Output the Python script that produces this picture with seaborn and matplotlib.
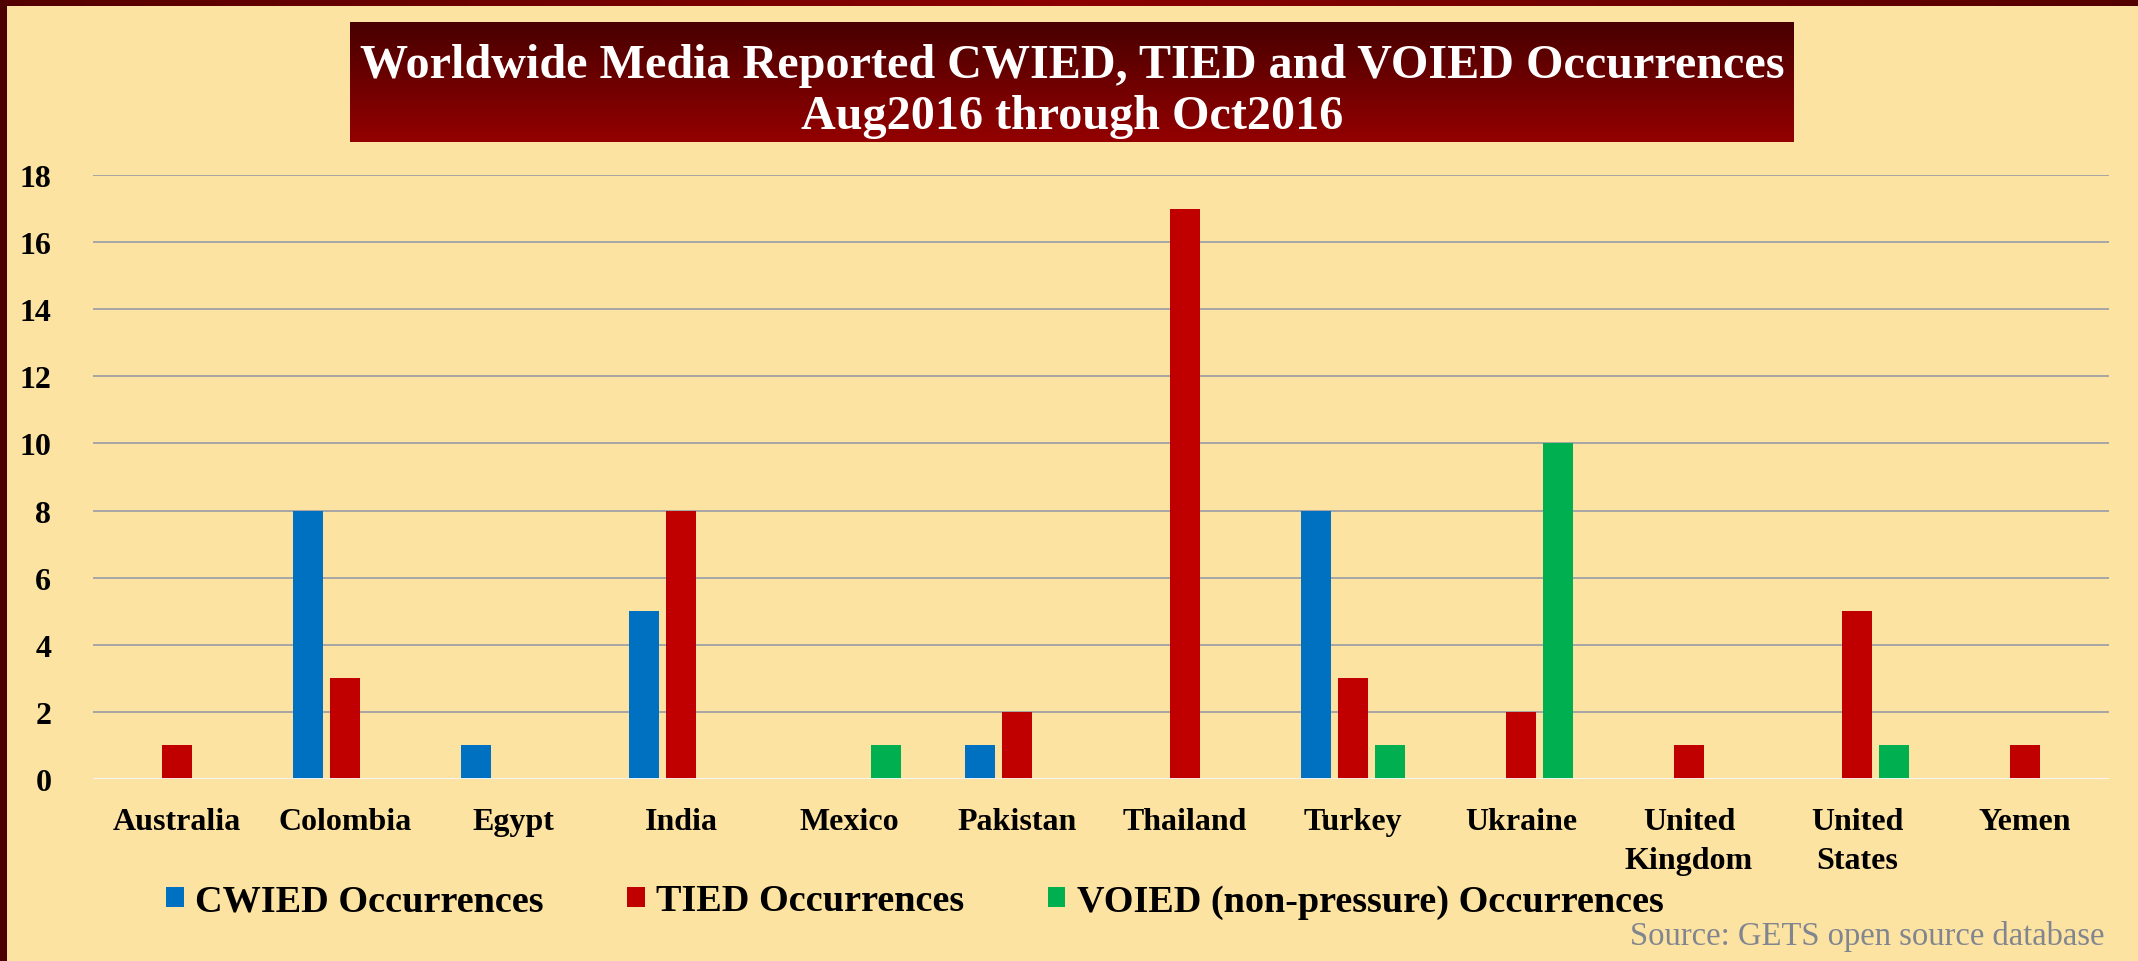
import numpy as np
import pandas as pd
import matplotlib
matplotlib.use("Agg")
import matplotlib.pyplot as plt
import seaborn as sns
from matplotlib.patches import Rectangle

countries = ["Australia", "Colombia", "Egypt", "India", "Mexico", "Pakistan",
             "Thailand", "Turkey", "Ukraine", "United\nKingdom", "United\nStates", "Yemen"]
cwied = [0, 8, 1, 5, 0, 1, 0, 8, 0, 0, 0, 0]
tied = [1, 3, 0, 8, 0, 2, 17, 3, 2, 1, 5, 1]
voied = [0, 0, 0, 0, 1, 0, 0, 1, 10, 0, 1, 0]
series_names = ["CWIED Occurrences", "TIED Occurrences", "VOIED (non-pressure) Occurrences"]
yticks = list(range(0, 19, 2))
title_lines = ["Worldwide Media Reported CWIED, TIED and VOIED Occurrences", "Aug2016 through Oct2016"]
source_text = "Source: GETS open source database"

colors = ["#0070C0", "#C00000", "#00B050"]
bg = "#FDE3A1"

rows = []
for i, c in enumerate(countries):
    for s, vals in zip(series_names, [cwied, tied, voied]):
        rows.append({"country": c, "series": s, "value": vals[i]})
df = pd.DataFrame(rows)

sns.set_theme(style="white")
plt.rcParams['font.family'] = ['Liberation Serif', 'DejaVu Serif']
plt.rcParams['font.weight'] = 'bold'
plt.rcParams['text.color'] = 'black'
plt.rcParams['xtick.color'] = 'black'
plt.rcParams['ytick.color'] = 'black'

W, H = 2138, 962
fig = plt.figure(figsize=(W / 100, H / 100), dpi=100, facecolor=bg)

# borders (top gradient, left dark)
bax = fig.add_axes([0, 1 - 7 / H, 1, 7 / H])
grad = np.linspace(0, 1, 256)
tri = 1 - np.abs(grad - 0.5) * 2
top_cols = np.zeros((1, 256, 3))
c1 = np.array([0x55, 0x00, 0x00]) / 255
c2 = np.array([0x8C, 0x00, 0x00]) / 255
top_cols[0] = c1[None, :] * (1 - tri[:, None]) + c2[None, :] * tri[:, None]
bax.imshow(top_cols, aspect="auto", extent=[0, 1, 0, 1])
bax.set_axis_off()
fig.patches.append(Rectangle((0, 0), 7 / W, 1, transform=fig.transFigure,
                             facecolor="#4F0000", edgecolor="none", zorder=5))

# title box with vertical gradient
tax = fig.add_axes([350 / W, 1 - 143 / H, 1444 / W, 120 / H])
g = np.linspace(0, 1, 256)
ct = np.array([0x48, 0x00, 0x00]) / 255
cb = np.array([0x94, 0x00, 0x00]) / 255
vcols = (ct[None, :] * (1 - g[:, None]) + cb[None, :] * g[:, None])[:, None, :]
tax.imshow(vcols, aspect="auto", extent=[0, 1, 0, 1])
tax.set_axis_off()
fig.text(1072 / W, 1 - 66 / H, title_lines[0], ha="center", va="center",
         color="white", fontsize=34.7, fontweight="bold")
fig.text(1072 / W, 1 - 117 / H, title_lines[1], ha="center", va="center",
         color="white", fontsize=34.7, fontweight="bold")

# main axes
ax = fig.add_axes([93 / W, 182 / H, (2109 - 93) / W, (780 - 176) / H])
ax.set_facecolor(bg)
sns.barplot(data=df, x="country", y="value", hue="series", palette=colors,
            saturation=1, width=0.66, gap=0.2, linewidth=0, ax=ax, legend=True)
ax.set_ylim(0, 18)
ax.set_yticks(yticks)
ax.set_yticklabels([str(t) for t in yticks], fontsize=23, fontweight="bold")
ax.set_xticks(range(len(countries)))
ax.set_xticklabels(countries, fontsize=23, fontweight="bold", linespacing=1.45)
ax.tick_params(axis="y", length=0, pad=30)
ax.tick_params(axis="x", length=0, pad=20)
for lab in ax.get_xticklabels():
    lab.set_verticalalignment("top")
ax.set_axisbelow(True)
ax.yaxis.grid(True, color="#A6A6A6", linewidth=1.4)
ax.xaxis.grid(False)
ax.axhline(0, color="white", linewidth=2, zorder=3)
for s in ax.spines.values():
    s.set_visible(False)
ax.set_xlabel("")
ax.set_ylabel("")
ax.set_xlim(-0.5, len(countries) - 0.5)

handles, labels = ax.get_legend_handles_labels()
ax.get_legend().remove()
fig.legend(handles, labels, loc="center", bbox_to_anchor=(915 / W, 1 - 902 / H),
           ncol=3, frameon=False, handlelength=0.45, handleheight=0.45,
           handletextpad=0.3, columnspacing=2.2, prop={"weight": "bold", "size": 27.5})

fig.text(2104 / W, 1 - 937 / H, source_text, ha="right", va="center",
         color="#808590", fontsize=23.5, fontweight="normal")

fig.savefig("out.png", dpi=100, facecolor=bg)
